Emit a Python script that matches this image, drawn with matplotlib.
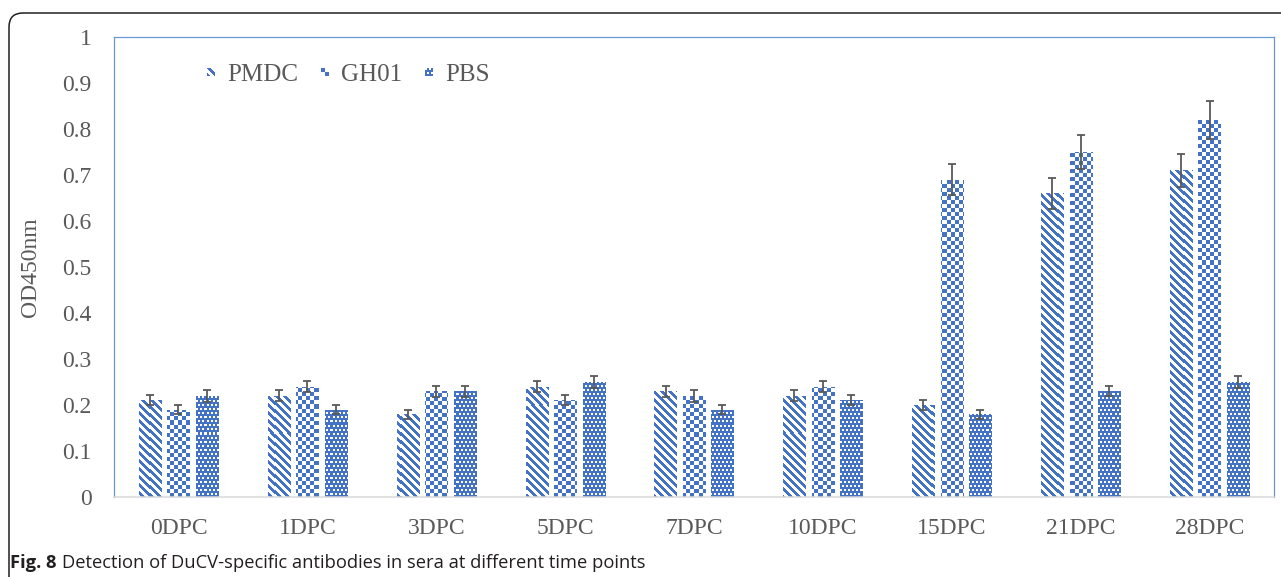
import numpy as np
import matplotlib
matplotlib.use("Agg")
import matplotlib.pyplot as plt
from matplotlib.patches import Rectangle, FancyBboxPatch
from matplotlib.legend_handler import HandlerBase
from matplotlib.transforms import IdentityTransform

# OD450 readings per group and time point, with error bars
days = ["0DPC", "1DPC", "3DPC", "5DPC", "7DPC", "10DPC", "15DPC", "21DPC", "28DPC"]
pmdc = [0.21, 0.22, 0.18, 0.24, 0.23, 0.22, 0.20, 0.66, 0.71]
gh01 = [0.19, 0.24, 0.23, 0.21, 0.22, 0.24, 0.69, 0.75, 0.82]
pbs = [0.22, 0.19, 0.23, 0.25, 0.19, 0.21, 0.18, 0.23, 0.25]
pmdc_err = [0.011, 0.012, 0.010, 0.012, 0.012, 0.012, 0.010, 0.033, 0.035]
gh01_err = [0.009, 0.012, 0.012, 0.011, 0.013, 0.012, 0.033, 0.037, 0.041]
pbs_err = [0.013, 0.010, 0.012, 0.013, 0.010, 0.011, 0.010, 0.011, 0.013]
groups = ["PMDC", "GH01", "PBS"]

BLUE = "#4472C4"
GREY = "#595959"
W, H, DPI = 1281, 577, 100
serif = "Liberation Serif"

fig = plt.figure(figsize=(W / DPI, H / DPI), dpi=DPI)
# plot area in pixels: x 114..1274, y 37..497 (from top)
ax_w, ax_h = 1160, 460
ax = fig.add_axes([114 / W, (H - 497) / H, ax_w / W, ax_h / H])


# pixel fill patterns, one per group
def stripes(r, c):
    return ((c - r) % 8) < 4


def checker(r, c):
    return ((c // 4 + r // 4) % 2) == 0


def weave(r, c):
    shift = np.where((r // 4) % 2 == 0, 0, 2)
    holes = ((r % 4) < 2) & (((c + shift) % 4) < 2)
    return ~holes


patterns = [stripes, checker, weave]
blue_rgb = np.array(matplotlib.colors.to_rgb(BLUE))
rr, cc = np.mgrid[0:ax_h, 0:ax_w]


def texture(pattern):
    img = np.ones((ax_h, ax_w, 3))
    img[pattern(rr, cc)] = blue_rgb
    return img


x = np.arange(len(days))
width = 0.172
step = 0.221
series = [(pmdc, pmdc_err), (gh01, gh01_err), (pbs, pbs_err)]
for i, ((vals, errs), pattern) in enumerate(zip(series, patterns)):
    pos = x + (i - 1) * step
    bars = ax.bar(pos, vals, width, color="none", edgecolor="none", zorder=1)
    tex = texture(pattern)
    for b in bars:
        im = ax.imshow(tex, extent=(-0.5, 8.5, 0, 1), aspect="auto",
                       interpolation="nearest", zorder=1)
        im.set_clip_path(b)
    ax.errorbar(pos, vals, yerr=errs, fmt="none", ecolor=GREY, elinewidth=1.3,
                capsize=3, capthick=1.3, zorder=3)

ax.set_xlim(-0.5, 8.5)
ax.set_ylim(0, 1)
ax.set_yticks(np.arange(0, 1.01, 0.1))
ax.set_yticklabels(["0", "0.1", "0.2", "0.3", "0.4", "0.5", "0.6", "0.7", "0.8", "0.9", "1"])
ax.set_xticks(x)
ax.set_xticklabels(days)
ax.tick_params(axis="both", length=0, labelsize=17, labelcolor=GREY)
ax.tick_params(axis="y", pad=16)
ax.tick_params(axis="x", pad=15)
for lab in ax.get_xticklabels() + ax.get_yticklabels():
    lab.set_family(serif)

ax.set_ylabel("OD450nm", fontsize=17, color=GREY, family=serif)
ax.yaxis.set_label_coords((41 - 114) / ax_w, 0.5)

for side in ["left", "top", "right"]:
    ax.spines[side].set_color("#6a98d6")
    ax.spines[side].set_linewidth(0.9)
ax.spines["bottom"].set_color("#d9d9d9")
ax.spines["bottom"].set_linewidth(1.1)


class PatternHandler(HandlerBase):
    """Small legend swatch built from the same pixel pattern as the bars."""

    def __init__(self, pattern, n=8):
        super().__init__()
        self.pattern = pattern
        self.n = n

    def create_artists(self, legend, orig_handle, xdescent, ydescent, width, height,
                       fontsize, trans):
        n = self.n
        px = width / n
        r, c = np.mgrid[0:n, 0:n]
        mask = self.pattern(r, c)
        y0 = -ydescent + (height - n * px) / 2
        arts = []
        for i, j in zip(*np.nonzero(mask)):
            arts.append(Rectangle((-xdescent + j * px, y0 + (n - 1 - i) * px), px, px,
                                  facecolor=BLUE, edgecolor="none", transform=trans))
        return arts


proxies = [Rectangle((0, 0), 1, 1) for _ in groups]
leg = ax.legend(proxies, groups, loc="center left", frameon=False, ncol=3,
                bbox_to_anchor=(207 / W, 1 - 75 / H), bbox_transform=fig.transFigure,
                fontsize=18, handlelength=0.32, handleheight=0.32,
                handletextpad=0.5, columnspacing=0.9, borderpad=0, borderaxespad=0,
                handler_map={p: PatternHandler(pt) for p, pt in zip(proxies, patterns)})
for t in leg.get_texts():
    t.set_color(GREY)
    t.set_family(serif)

# rounded outer frame
frame = FancyBboxPatch((9, -40), 1320, H - 13 + 40, boxstyle="round,pad=0,rounding_size=14",
                       transform=IdentityTransform(), facecolor="none",
                       edgecolor="#231f20", linewidth=1.1)
fig.patches.append(frame)

cap_font = "Open Sans"
t1 = fig.text(10 / W, 9 / H, "Fig. 8", fontsize=13.2, fontweight="bold",
              family=cap_font, color="#231f20", va="baseline")
ax.annotate("Detection of DuCV-specific antibodies in sera at different time points",
            xy=(1, 0), xycoords=t1, xytext=(5, 0), textcoords="offset pixels",
            fontsize=13.2, family=cap_font, color="#231f20", va="bottom", ha="left",
            annotation_clip=False)

fig.savefig("out.png", dpi=DPI)
